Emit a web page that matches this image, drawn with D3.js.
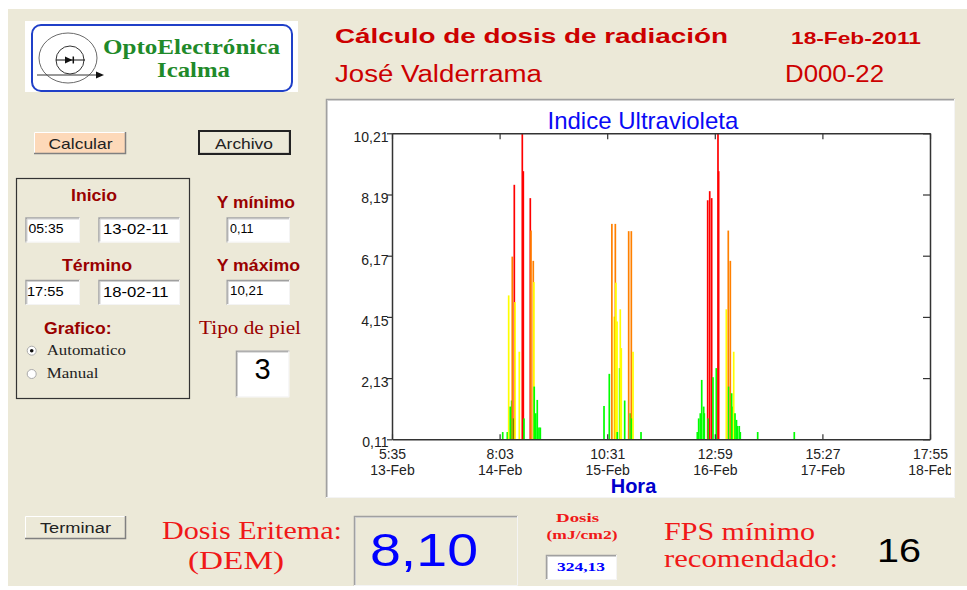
<!DOCTYPE html>
<html><head><meta charset="utf-8">
<script src="https://cdn.jsdelivr.net/npm/d3@7"></script>
<style>body{margin:0;background:#fff}svg{display:block}</style>
</head><body>
<svg id="app" width="967" height="590"></svg>
<script>
// ---- datos ----
const horas = [
 "2011-02-14 08:49","2011-02-14 09:57","2011-02-14 10:17","2011-02-14 10:41","2011-02-14 11:01","2011-02-14 11:10",
 "2011-02-14 11:28","2011-02-14 11:40","2011-02-14 11:50","2011-02-14 12:54","2011-02-14 13:38","2011-02-14 13:53",
 "2011-02-14 14:03","2011-02-14 15:36","2011-02-14 15:46","2011-02-14 16:20","2011-02-14 16:29","2011-02-14 16:34",
 "2011-02-14 16:56","2011-02-14 17:19","2011-02-14 17:44","2011-02-14 18:04",
 "2011-02-15 09:44","2011-02-15 11:02","2011-02-15 11:40","2011-02-15 12:16","2011-02-15 12:31","2011-02-15 12:39",
 "2011-02-15 12:56","2011-02-15 13:00","2011-02-15 13:35","2011-02-15 13:44","2011-02-15 13:59","2011-02-15 14:49",
 "2011-02-15 15:48","2011-02-15 16:12","2011-02-15 16:27","2011-02-15 16:32","2011-02-15 16:52","2011-02-15 18:50",
 "2011-02-16 08:41","2011-02-16 09:01","2011-02-16 09:25","2011-02-16 09:46","2011-02-16 10:15","2011-02-16 10:24",
 "2011-02-16 11:14","2011-02-16 11:23","2011-02-16 11:44","2011-02-16 12:13","2011-02-16 12:32","2011-02-16 13:21",
 "2011-02-16 13:46","2011-02-16 13:56","2011-02-16 15:49","2011-02-16 16:18","2011-02-16 16:24","2011-02-16 16:48",
 "2011-02-16 17:08","2011-02-16 17:28","2011-02-16 17:38","2011-02-16 17:57","2011-02-16 18:19","2011-02-16 18:31",
 "2011-02-16 19:00","2011-02-16 19:15","2011-02-16 23:32",
 "2011-02-17 08:32"
];
const indiceUV = [
 0.35,0.35,4.86,1.19,1.39,6.14,
 0.8,8.51,4.64,3.0,10.4,8.96,
 0.8,8.07,7.0,6.0,5.3,1.85,
 0.97,1.41,0.5,0.5,
 1.21,2.27,7.22,4.16,7.22,5.28,
 4.0,0.35,2.46,4.4,3.12,1.39,
 6.98,0.97,6.98,0.8,3.0,0.35,
 0.35,0.8,0.97,2.07,1.19,0.97,
 8.0,0.8,8.3,8.07,2.16,2.46,
 10.4,8.96,4.4,7.0,1.85,6.0,
 1.63,1.19,3.0,0.97,0.75,0.55,
 0.55,0.35,0.35,
 0.35
];
const yTicks = [0.11, 2.13, 4.15, 6.17, 8.19, 10.21];
const xTicks = ["2011-02-13 05:35","2011-02-14 08:03","2011-02-15 10:31","2011-02-16 12:59","2011-02-17 15:27","2011-02-18 17:55"];
const xTickHora = ["5:35","8:03","10:31","12:59","15:27","17:55"];
const xTickFecha = ["13-Feb","14-Feb","15-Feb","16-Feb","17-Feb","18-Feb"];
const umbralesUV = [3, 6, 8];
const coloresUV = ["#00ff00", "#ffff00", "#ff8000", "#ff0000"];

// ---- utilidades ----
const SANS = "'Liberation Sans', Arial, sans-serif";
const SERIF = "'Liberation Serif', 'Times New Roman', serif";
const svg = d3.select("#app");
function texto(g, s, x, y, o = {}) {
  const t = g.append("text").attr("x", x).attr("y", y).text(s)
    .attr("font-family", o.serif ? SERIF : SANS)
    .attr("font-size", o.size || 14)
    .attr("font-weight", o.bold ? "bold" : "normal")
    .attr("fill", o.fill || "#000")
    .attr("text-anchor", o.anchor || "start");
  if (o.len) t.attr("textLength", o.len).attr("lengthAdjust", "spacingAndGlyphs");
  return t;
}
function hundido(g, x, y, w, h, fill) {
  g.append("rect").attr("x", x).attr("y", y).attr("width", w).attr("height", h).attr("fill", fill);
  g.append("path").attr("d", `M${x+0.5},${y+h}V${y+0.5}H${x+w}`).attr("stroke", "#a0a0a0").attr("stroke-width", 1.5).attr("fill", "none");
  g.append("path").attr("d", `M${x+1.5},${y+h-1}V${y+1.5}H${x+w-1}`).attr("stroke", "#d0d0d0").attr("stroke-width", 1).attr("fill", "none");
  g.append("path").attr("d", `M${x},${y+h-0.5}H${x+w-0.5}V${y}`).attr("stroke", "#f4f4f4").attr("stroke-width", 1).attr("fill", "none");
}
function boton(g, x, y, w, h, fill, negro) {
  g.append("rect").attr("x", x).attr("y", y).attr("width", w).attr("height", h).attr("fill", fill);
  g.append("path").attr("d", `M${x+0.5},${y+h}V${y+0.5}H${x+w}`).attr("stroke", "#fff").attr("fill", "none");
  g.append("path").attr("d", `M${x},${y+h-0.5}H${x+w-0.5}V${y}`).attr("stroke", "#808080").attr("stroke-width", 1.5).attr("fill", "none");
  if (negro) g.append("rect").attr("x", x).attr("y", y).attr("width", w).attr("height", h)
    .attr("fill", "none").attr("stroke", "#222").attr("stroke-width", 2);
}

// ---- fondo ventana ----
svg.append("rect").attr("x", 8).attr("y", 9).attr("width", 959).attr("height", 577).attr("fill", "#ece9d8");
const ui = svg.append("g");

// ---- logo ----
ui.append("rect").attr("x", 25).attr("y", 21).attr("width", 273).attr("height", 71).attr("fill", "#fff");
ui.append("rect").attr("x", 32).attr("y", 25).attr("width", 260).attr("height", 66).attr("rx", 9)
  .attr("fill", "#fff").attr("stroke", "#2040c8").attr("stroke-width", 2);
ui.append("ellipse").attr("cx", 68).attr("cy", 58).attr("rx", 29).attr("ry", 25).attr("fill", "none").attr("stroke", "#6a6a6a");
ui.append("circle").attr("cx", 70).attr("cy", 60).attr("r", 14).attr("fill", "none").attr("stroke", "#333");
ui.append("path").attr("d", "M56,60H85").attr("stroke", "#111");
ui.append("path").attr("d", "M65,56.5L72.5,60L65,63.5Z").attr("fill", "#111");
ui.append("path").attr("d", "M73.3,56.5V63.5").attr("stroke", "#111").attr("stroke-width", 1.5);
ui.append("path").attr("d", "M37,75H98").attr("stroke", "#333");
ui.append("path").attr("d", "M96,71.5L104,75L96,78.5Z").attr("fill", "#111");
texto(ui, "OptoElectrónica", 103, 54, {serif: true, bold: true, size: 22, fill: "#1f8a2a", len: 177});
texto(ui, "Icalma", 157, 77, {serif: true, bold: true, size: 22, fill: "#1f8a2a", len: 73});

// ---- cabecera ----
texto(ui, "Cálculo de dosis de radiación", 335, 43, {bold: true, size: 21, fill: "#cc0000", len: 393});
texto(ui, "18-Feb-2011", 791, 44, {bold: true, size: 17, fill: "#cc0000", len: 130});
texto(ui, "José Valderrama", 335, 82, {size: 23, fill: "#cc0000", len: 207});
texto(ui, "D000-22", 785, 82, {size: 23, fill: "#cc0000", len: 99});

// ---- panel izquierdo ----
const ROJO_OSC = "#990000";
boton(ui, 34, 132, 92, 22, "#fdd9b9", false);
texto(ui, "Calcular", 48.5, 149, {size: 15, fill: "#222", len: 64});
boton(ui, 199, 131, 91, 23, "#ece9d8", true);
texto(ui, "Archivo", 215, 148.5, {size: 15, fill: "#222", len: 58});
ui.append("rect").attr("x", 16.5).attr("y", 178.5).attr("width", 173).attr("height", 220)
  .attr("fill", "none").attr("stroke", "#333").attr("stroke-width", 1.2);
texto(ui, "Inicio", 71, 200.5, {bold: true, size: 16, fill: ROJO_OSC, len: 46});
hundido(ui, 25.5, 217.5, 54.5, 25, "#fff");
texto(ui, "05:35", 28.5, 233, {size: 12, len: 35});
hundido(ui, 98.5, 217.5, 81.5, 25, "#fff");
texto(ui, "13-02-11", 103, 234, {size: 14, len: 65.5});
texto(ui, "Término", 62, 270.5, {bold: true, size: 16, fill: ROJO_OSC, len: 70});
hundido(ui, 25.5, 280, 54.5, 25, "#fff");
texto(ui, "17:55", 27, 295.5, {size: 12, len: 36.5});
hundido(ui, 98.5, 280, 81.5, 25, "#fff");
texto(ui, "18-02-11", 103, 297, {size: 14, len: 65.5});
texto(ui, "Grafico:", 44, 334, {bold: true, size: 16, fill: ROJO_OSC, len: 67.5});
[350.7, 374].forEach((cy, i) => {
  ui.append("circle").attr("cx", 31.7).attr("cy", cy).attr("r", 4.5).attr("fill", "#fff").attr("stroke", "#aaa");
  if (i === 0) ui.append("circle").attr("cx", 31.7).attr("cy", cy).attr("r", 1.8).attr("fill", "#111");
});
texto(ui, "Automatico", 46.7, 355, {serif: true, size: 14, fill: "#222", len: 79.3});
texto(ui, "Manual", 46.7, 378.3, {serif: true, size: 14, fill: "#222", len: 51.7});
texto(ui, "Y mínimo", 216.7, 208.3, {bold: true, size: 16, fill: ROJO_OSC, len: 78.3});
hundido(ui, 226.7, 217.5, 63.3, 25, "#fff");
texto(ui, "0,11", 230, 232.7, {size: 12, len: 23.3});
texto(ui, "Y máximo", 216.7, 270.7, {bold: true, size: 16, fill: ROJO_OSC, len: 83.3});
hundido(ui, 226.7, 280, 63.3, 25, "#fff");
texto(ui, "10,21", 230, 295.3, {size: 12, len: 33.3});
texto(ui, "Tipo de piel", 199, 334, {serif: true, size: 18, fill: ROJO_OSC, len: 102});
hundido(ui, 236, 350.7, 53.3, 46.6, "#fff");
texto(ui, "3", 262.5, 379.3, {size: 29, anchor: "middle"});

// ---- panel inferior ----
const ROJO = "#f01818";
boton(ui, 25, 516, 101, 23, "#ece9d8", false);
texto(ui, "Terminar", 40, 533, {size: 14, fill: "#222", len: 71});
texto(ui, "Dosis Eritema:", 162, 538.5, {serif: true, size: 26, fill: ROJO, len: 180});
texto(ui, "(DEM)", 188, 569, {serif: true, size: 26, fill: ROJO, len: 96});
hundido(ui, 354, 516, 164, 70, "#ece9d8");
texto(ui, "8,10", 370, 566, {size: 47, fill: "#0000ff", len: 108});
texto(ui, "Dosis", 556, 521.5, {serif: true, bold: true, size: 12.5, fill: ROJO, len: 43});
texto(ui, "(mJ/cm2)", 546.5, 539, {serif: true, bold: true, size: 12, fill: ROJO, len: 71});
hundido(ui, 546, 555, 71, 25, "#fff");
texto(ui, "324,13", 557, 571, {serif: true, bold: true, size: 13, fill: "#0000ff", len: 48});
texto(ui, "FPS mínimo", 664, 539.5, {serif: true, size: 24.5, fill: ROJO, len: 151});
texto(ui, "recomendado:", 664, 567, {serif: true, size: 24.5, fill: ROJO, len: 174});
texto(ui, "16", 877, 562, {size: 33, fill: "#000", len: 44});

// ---- panel del gráfico ----
hundido(svg, 326, 99, 629, 399, "#fff");
const defs = svg.append("defs");
defs.append("clipPath").attr("id", "clipPanel").append("rect").attr("x", 328).attr("y", 101).attr("width", 623).attr("height", 396);
const plotL = 392, plotR = 930, plotT = 133.3, plotB = 439.3;
defs.append("clipPath").attr("id", "clipPlot").append("rect").attr("x", plotL).attr("y", plotT).attr("width", plotR - plotL).attr("height", plotB - plotT);

const chart = svg.append("g").attr("clip-path", "url(#clipPanel)");
const parse = d3.timeParse("%Y-%m-%d %H:%M");
const xTickDates = xTicks.map(parse);
const datos = horas.map((h, i) => ({t: parse(h), v: indiceUV[i]}));
const x = d3.scaleTime().domain([xTickDates[0], xTickDates[xTickDates.length - 1]]).range([plotL, plotR]);
const y = d3.scaleLinear().domain([yTicks[0], yTicks[yTicks.length - 1]]).range([plotB, plotT]);
const color = d3.scaleThreshold().domain(umbralesUV).range(coloresUV);
const bw = x(d3.timeMinute.offset(xTickDates[0], 25)) - x(xTickDates[0]);
const fmt = d => d.toFixed(2).replace(".", ",");

chart.append("g").attr("clip-path", "url(#clipPlot)")
  .selectAll("rect").data(datos).join("rect")
  .attr("x", d => x(d.t) - bw / 2)
  .attr("y", d => y(d.v))
  .attr("width", bw)
  .attr("height", d => y(yTicks[0]) - y(d.v))
  .attr("fill", d => color(d.v));

function estilo(g) {
  g.select(".domain").attr("stroke", "#333").attr("stroke-width", 1.5);
  g.selectAll(".tick line").attr("stroke", "#333").attr("stroke-width", 1.2);
  g.attr("font-family", SANS).attr("font-size", 14);
}
const gL = chart.append("g").attr("transform", `translate(${plotL},0)`)
  .call(d3.axisLeft(y).tickValues(yTicks).tickSizeInner(5).tickSizeOuter(0).tickPadding(-1.5).tickFormat(fmt));
estilo(gL);
gL.selectAll(".tick text").attr("dy", (d, i) => i === 0 ? "0.5em" : "0.6em").attr("fill", "#222");
const gR = chart.append("g").attr("transform", `translate(${plotR},0)`)
  .call(d3.axisRight(y).tickValues(yTicks).tickSizeInner(-7).tickSizeOuter(0).tickFormat(""));
estilo(gR);
const gT = chart.append("g").attr("transform", `translate(0,${plotT})`)
  .call(d3.axisTop(x).tickValues(xTickDates).tickSizeInner(-6).tickSizeOuter(0).tickFormat(""));
estilo(gT);
const gB = chart.append("g").attr("transform", `translate(0,${plotB})`)
  .call(d3.axisBottom(x).tickValues(xTickDates).tickSizeInner(-5).tickSizeOuter(0).tickFormat(""));
estilo(gB);
gB.selectAll(".tick text").each(function(d, i) {
  const t = d3.select(this).attr("y", 0).attr("dy", null).attr("fill", "#222").text(null);
  t.append("tspan").attr("x", 0).attr("y", 20).text(xTickHora[i]);
  t.append("tspan").attr("x", 0).attr("y", 36).text(xTickFecha[i]);
});

texto(chart, "Indice Ultravioleta", 547.5, 129.3, {size: 24, fill: "#0a0af5"});
texto(chart, "Hora", 633.5, 493, {size: 20, bold: true, fill: "#0000cc", anchor: "middle"});
</script>
</body></html>
